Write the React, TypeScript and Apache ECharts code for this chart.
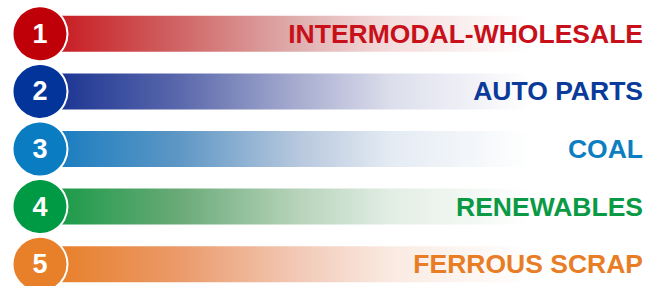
import React, { useEffect, useRef } from "react";
import * as echarts from "echarts";

const categories = ["INTERMODAL-WHOLESALE", "AUTO PARTS", "COAL", "RENEWABLES", "FERROUS SCRAP"];
const ranks = [1, 2, 3, 4, 5];
const barValues = [100, 100, 100, 100, 100];
const circleX = [0, 0, 0, 0, 0];
const circleColors = ["#c00008", "#023499", "#0a7dc2", "#009a44", "#e8802a"];
const textColors = ["#c8101a", "#0a3a9a", "#0d7fc0", "#0a9a45", "#e87d26"];
// gradient shades along each bar (left → right)
const barShades = [
  ["#c81c22", "#d06565", "#e0b0b0", "#f4dcdc"],
  ["#1c3593", "#5a68ac", "#a9aed0", "#dcdeec"],
  ["#1a7dc0", "#5e97c5", "#b8c8de", "#e4ebf3"],
  ["#1a9a48", "#6aaa78", "#b8d4bc", "#e2eee4"],
  ["#e8802a", "#eb9a6a", "#f2cab8", "#faeae2"],
];
const shadeStops = [0.03, 0.23, 0.43, 0.58];

export default function App() {
  const ref = useRef<HTMLDivElement>(null);
  useEffect(() => {
    if (!ref.current) return;
    const chart = echarts.init(ref.current, null, { renderer: "svg" });
    const font = "'Liberation Sans', Arial, sans-serif";
    chart.setOption({
      animation: false,
      grid: { left: 40, right: 12, top: 5, height: 288, outerBoundsMode: "none", containLabel: false },
      xAxis: { type: "value", min: 0, max: 100, show: false },
      yAxis: { type: "category", data: categories, inverse: true, show: false },
      series: [
        {
          type: "bar",
          z: 2,
          barWidth: 36,
          data: barValues.map((v, i) => ({
            value: v,
            itemStyle: {
              color: new echarts.graphic.LinearGradient(0, 0, 1, 0, [
                { offset: 0, color: barShades[i][0] },
                ...barShades[i].map((c, k) => ({ offset: shadeStops[k], color: c })),
                { offset: 0.81, color: "#ffffff" },
                { offset: 1, color: "#ffffff" },
              ]),
            },
            label: { color: textColors[i] },
          })),
          label: {
            show: true,
            position: "insideRight",
            distance: 2,
            fontFamily: font,
            fontSize: 26.5,
            fontWeight: "bold",
            formatter: (p: any) => categories[p.dataIndex],
          },
        },
        {
          type: "scatter",
          z: 3,
          symbol: "circle",
          symbolSize: 55,
          data: ranks.map((r, i) => ({
            value: [circleX[i], categories[i]],
            itemStyle: { color: circleColors[i], borderColor: "#ffffff", borderWidth: 2, opacity: 1 },
          })),
          itemStyle: { opacity: 1 },
          label: {
            show: true,
            position: "inside",
            color: "#ffffff",
            fontFamily: font,
            fontSize: 27,
            fontWeight: "bold",
            formatter: (p: any) => String(ranks[p.dataIndex]),
          },
        },
      ],
    });
    return () => chart.dispose();
  }, []);
  return <div ref={ref} style={{ position: "absolute", left: 0, top: 0, width: 657, height: 286 }} />;
}
